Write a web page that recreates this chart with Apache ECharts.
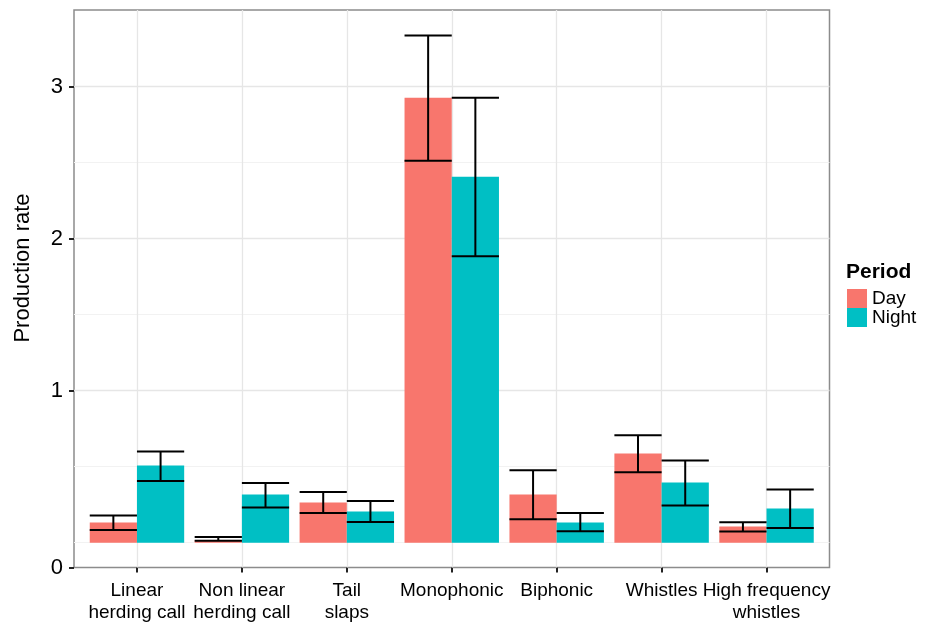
<!DOCTYPE html>
<html>
<head>
<meta charset="utf-8">
<script src="https://cdn.jsdelivr.net/npm/echarts@6/dist/echarts.min.js"></script>
<style>
html,body{margin:0;padding:0;background:#fff;}
#chart{width:933px;height:626px;}
</style>
</head>
<body>
<div id="chart"></div>
<script>
// ---- data ----
const categories = ['Linear\nherding call', 'Non linear\nherding call', 'Tail\nslaps', 'Monophonic', 'Biphonic', 'Whistles', 'High frequency\nwhistles'];
const dayMean   = [0.133, 0.017, 0.265, 2.926, 0.317, 0.587, 0.107];
const dayLower  = [0.083, 0.013, 0.195, 2.512, 0.155, 0.464, 0.074];
const dayUpper  = [0.179, 0.037, 0.333, 3.335, 0.477, 0.707, 0.135];
const nightMean  = [0.508, 0.317, 0.206, 2.407, 0.133, 0.396, 0.225];
const nightLower = [0.405, 0.232, 0.136, 1.883, 0.076, 0.245, 0.096];
const nightUpper = [0.600, 0.392, 0.274, 2.926, 0.195, 0.541, 0.350];
const yTickValues = [-0.163, 1, 2, 3];
const yTickLabels = ['0', '1', '2', '3'];
const yMajorGrid = [1, 2, 3];
const yMinorGrid = [0, 0.5, 1.5, 2.5];
const yMin = -0.163, yMax = 3.503;

const FONT = '"Liberation Sans", Arial, Helvetica, sans-serif';

function errRender(side) {
  return function (params, api) {
    const idx = api.value(0);
    const lo = api.value(1), hi = api.value(2);
    const bw = api.size([1, 0])[0];
    const pLo = api.coord([idx, lo]);
    const pHi = api.coord([idx, hi]);
    const cx = pLo[0];
    const half = bw * 0.45;
    const x0 = side < 0 ? cx - half : cx;
    const x1 = side < 0 ? cx : cx + half;
    const xm = (x0 + x1) / 2;
    const st = { stroke: '#000', lineWidth: 2 };
    return {
      type: 'group',
      children: [
        { type: 'line', shape: { x1: xm, y1: pLo[1], x2: xm, y2: pHi[1] }, style: st },
        { type: 'line', shape: { x1: x0, y1: pLo[1], x2: x1, y2: pLo[1] }, style: st },
        { type: 'line', shape: { x1: x0, y1: pHi[1], x2: x1, y2: pHi[1] }, style: st }
      ]
    };
  };
}

const chart = echarts.init(document.getElementById('chart'), null, { renderer: 'canvas' });

const hGrid = yMinorGrid.map(v => ({ yAxis: v, lineStyle: { type: 'solid', color: '#f2f2f2', width: 1 } }))
  .concat(yMajorGrid.map(v => ({ yAxis: v, lineStyle: { type: 'solid', color: '#e6e6e6', width: 1.3 } })));
const vGrid = categories.map(c => ({ xAxis: c, lineStyle: { type: 'solid', color: '#e6e6e6', width: 1.3 } }));

const option = {
  animation: false,
  backgroundColor: '#fff',
  textStyle: { fontFamily: FONT },
  grid: [
    { left: 74, top: 10, width: 755.5, height: 557.5, show: true, borderColor: '#8c8c8c', borderWidth: 1.5, backgroundColor: 'transparent' },
    { left: 84.5, top: 10, width: 734.5, height: 557.5 }
  ],
  xAxis: [
    { type: 'value', gridIndex: 0, min: 0, max: 1, show: false },
    {
      type: 'category', gridIndex: 1, data: categories, position: 'bottom',
      axisLine: { show: false, onZero: false },
      axisTick: { show: true, alignWithLabel: true, length: 5, lineStyle: { color: '#222', width: 2 } },
      axisLabel: { interval: 0, fontSize: 19, lineHeight: 22, color: '#000', margin: 12, fontFamily: FONT },
      splitLine: { show: false }
    }
  ],
  yAxis: [
    {
      type: 'value', gridIndex: 0, min: yMin, max: yMax,
      axisLine: { show: false, onZero: false },
      axisTick: { show: true, customValues: yTickValues, length: 5, lineStyle: { color: '#222', width: 2 } },
      axisLabel: {
        customValues: yTickValues, fontSize: 22, color: '#000', margin: 11, fontFamily: FONT,
        formatter: function (v) {
          let best = 0, d = Infinity;
          yTickValues.forEach((t, i) => { if (Math.abs(t - v) < d) { d = Math.abs(t - v); best = i; } });
          return yTickLabels[best];
        }
      },
      splitLine: { show: false }
    },
    { type: 'value', gridIndex: 1, min: yMin, max: yMax, show: false, splitLine: { show: false } }
  ],
  legend: {
    data: ['Day', 'Night'], orient: 'vertical', left: 847, top: 289,
    itemWidth: 20, itemHeight: 19, itemGap: 0, icon: 'rect', padding: 0,
    selectedMode: false,
    textStyle: { fontSize: 19, color: '#000', fontFamily: FONT, padding: [3, 0, 0, 0] }
  },
  graphic: [
    { type: 'text', left: 846, top: 262, style: { text: 'Period', font: 'bold 21px ' + FONT, fill: '#000' } },
    { type: 'text', x: 23, y: 268, rotation: Math.PI / 2, style: { text: 'Production rate', font: '22px ' + FONT, fill: '#000', textAlign: 'center', textVerticalAlign: 'middle' } }
  ],
  series: [
    {
      name: 'hgrid', type: 'line', xAxisIndex: 0, yAxisIndex: 0, data: [], z: 0,
      markLine: { silent: true, symbol: ['none', 'none'], label: { show: false }, z: 1, animation: false, lineStyle: { type: 'solid' }, data: hGrid }
    },
    {
      name: 'vgrid', type: 'line', xAxisIndex: 1, yAxisIndex: 1, data: [], z: 0,
      markLine: { silent: true, symbol: ['none', 'none'], label: { show: false }, z: 1, animation: false, lineStyle: { type: 'solid' }, data: vGrid }
    },
    {
      name: 'Day', type: 'bar', xAxisIndex: 1, yAxisIndex: 1, data: dayMean, z: 2,
      itemStyle: { color: '#F8766D' }, barGap: '0%', barCategoryGap: '10%'
    },
    {
      name: 'Night', type: 'bar', xAxisIndex: 1, yAxisIndex: 1, data: nightMean, z: 2,
      itemStyle: { color: '#00BFC4' }, barGap: '0%', barCategoryGap: '10%'
    },
    {
      name: 'Day error', type: 'custom', xAxisIndex: 1, yAxisIndex: 1, z: 3,
      renderItem: errRender(-1), encode: { x: 0, y: [1, 2] },
      data: categories.map((c, i) => [i, dayLower[i], dayUpper[i]])
    },
    {
      name: 'Night error', type: 'custom', xAxisIndex: 1, yAxisIndex: 1, z: 3,
      renderItem: errRender(1), encode: { x: 0, y: [1, 2] },
      data: categories.map((c, i) => [i, nightLower[i], nightUpper[i]])
    }
  ]
};
chart.setOption(option);
</script>
</body>
</html>
